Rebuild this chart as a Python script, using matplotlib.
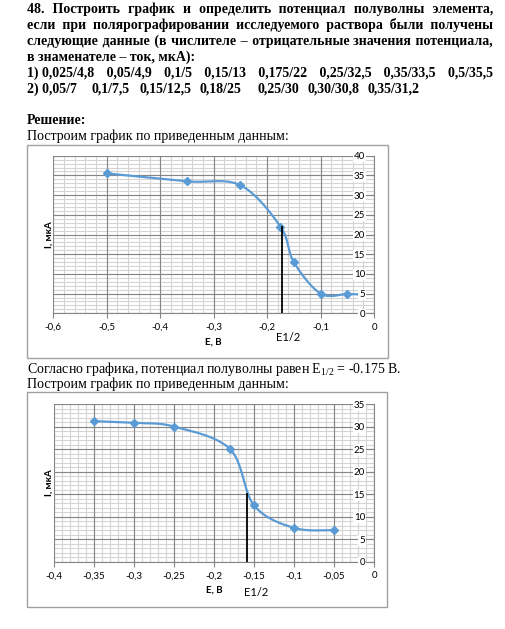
import itertools
import numpy as np
import matplotlib
matplotlib.use("Agg")
import matplotlib.pyplot as plt
from matplotlib import font_manager as fm
from matplotlib.ft2font import FT2Font
from matplotlib.ticker import FixedLocator, FixedFormatter

# ---------------- data ----------------
E1 = [-0.5, -0.35, -0.25, -0.175, -0.15, -0.1, -0.05, -0.025]
I1 = [35.5, 33.5, 32.5, 22, 13, 5, 4.9, 4.8]
E1_half, I1_half = -0.172, 22

E2 = [-0.35, -0.3, -0.25, -0.18, -0.15, -0.1, -0.05]
I2 = [31.2, 30.8, 30, 25, 12.5, 7.5, 7]
E2_half, I2_half = -0.159, 15

title_lines = [
    "48. Построить график и определить потенциал полуволны элемента,",
    "если при полярографировании исследуемого раствора были получены",
    "следующие данные (в числителе – отрицательные значения потенциала,",
]
title_last = "в знаменателе – ток, мкА):"
data_line1 = ["1) 0,025/4,8", "0,05/4,9", "0,1/5", "0,15/13", "0,175/22",
              "0,25/32,5", "0,35/33,5", "0,5/35,5"]
data_line2 = ["2) 0,05/7", "0,1/7,5", "0,15/12,5", "0,18/25", "0,25/30",
              "0,30/30,8", "0,35/31,2"]

# ---------------- setup ----------------
W, H = 505, 629
plt.rcParams["mathtext.fontset"] = "custom"
plt.rcParams["mathtext.rm"] = "Liberation Serif"
fig = plt.figure(figsize=(W / 100, H / 100), dpi=100)
page = fig.add_axes([0, 0, 1, 1])
page.set_xlim(0, W)
page.set_ylim(H, 0)
page.axis("off")
renderer = fig.canvas.get_renderer()

SERIF = "Liberation Serif"
CHART_FONT = "Lato"

fp_probe = fm.FontProperties(family=SERIF, weight="normal", size=10)
w, _, _ = renderer.get_text_width_height_descent(
    "Построим график по приведенным данным:", fp_probe, ismath=False)
BODY = 10 * 261 / w
FP_B = fm.FontProperties(family=SERIF, weight="bold", size=BODY)
FP_R = fm.FontProperties(family=SERIF, weight="normal", size=BODY)

_ft = FT2Font(fm.findfont(FP_B))
SPACES = [c for c in [" ", "\u2002", "\u2009", "\u200a"]
          if c == " " or _ft.get_char_index(ord(c)) != 0]


def measure(s):
    return renderer.get_text_width_height_descent(s, FP_B, ismath=False)[0]


base = measure("aa")
sp_w = {c: measure("a" + c + "a") - base for c in SPACES}
combos = []
for counts in itertools.product(range(1, 5), *[range(0, 4)] * (len(SPACES) - 1)):
    s = "".join(c * k for c, k in zip(SPACES, counts))
    combos.append((sum(sp_w[c] * k for c, k in zip(SPACES, counts)), s))


def justified_line(words, yb, x0=27, x1=493):
    total = sum(measure(wd) for wd in words)
    g = (x1 - x0 - total) / (len(words) - 1)
    out = words[0]
    carry = 0.0
    for wd in words[1:]:
        want = g + carry
        width, s = min(combos, key=lambda c: abs(c[0] - want))
        carry = want - width
        out += s + wd
    page.text(x0, yb, out, fontproperties=FP_B, va="baseline")


for line, yb in zip(title_lines, [13, 29, 45]):
    justified_line(line.split(" "), yb)
page.text(27, 61, title_last, fontproperties=FP_B, va="baseline")
justified_line(data_line1, 77)
pos2 = [27, 91, 140, 200, 257, 308, 368]
for tok, xp in zip(data_line2, pos2):
    page.text(xp, 93, tok, fontproperties=FP_B, va="baseline")

page.text(27, 124, "Решение:", fontproperties=FP_B, va="baseline")
page.text(27, 140, "Построим график по приведенным данным:", fontproperties=FP_R, va="baseline")
page.text(27, 373, r"Согласно графика, потенциал полуволны равен E$_{\mathrm{1/2}}$ = -0.175 В.",
          family=SERIF, fontsize=BODY, va="baseline")
page.text(27, 388, "Построим график по приведенным данным:", fontproperties=FP_R, va="baseline")


def excel_smooth(x, y, sx, sy, n=30):
    P = np.column_stack([np.asarray(x) * sx, np.asarray(y) * sy])
    k = len(P)
    out = []
    for i in range(k - 1):
        p0 = P[i - 1] if i > 0 else P[i]
        p1, p2 = P[i], P[i + 1]
        p3 = P[i + 2] if i + 2 < k else P[i + 1]
        c1 = p1 + (p2 - p0) / 6
        c2 = p2 - (p3 - p1) / 6
        t = np.linspace(0, 1, n)[:, None]
        seg = (1 - t) ** 3 * p1 + 3 * (1 - t) ** 2 * t * c1 + 3 * (1 - t) * t ** 2 * c2 + t ** 3 * p2
        out.append(seg if i == 0 else seg[1:])
    S = np.vstack(out)
    return S[:, 0] / sx, S[:, 1] / sy


def fmt(v):
    v = round(v, 3)
    if v == 0:
        return "0"
    return f"{v:g}".replace(".", ",")


def chart(box, plot, E, I, xmin, xmaj, xmin_step, ymax, e_half, i_half, lbl_off):
    bl, bt, br, bb = box
    page.add_patch(plt.Rectangle((bl, bt), br - bl, bb - bt, fill=False,
                                 edgecolor="#a0a0a0", lw=1.0))
    l, t, r, b = plot
    ax = fig.add_axes([l / W, 1 - b / H, (r - l) / W, (b - t) / H])
    ax.set_xlim(xmin, 0)
    ax.set_ylim(0, ymax)
    for v in np.arange(xmin, 0.0001, xmin_step):
        ax.axvline(v, color="#d4d4d4", lw=0.8, zorder=1)
    for v in np.arange(0, ymax + 0.001, 1):
        ax.axhline(v, color="#d4d4d4", lw=0.8, zorder=1)
    for v in np.arange(xmin, 0.0001, xmaj):
        ax.axvline(v, color="#858585", lw=0.8, zorder=1.1)
    for v in np.arange(0, ymax + 0.001, 5):
        ax.axhline(v, color="#858585", lw=0.8, zorder=1.1)
    for s in ["top", "right"]:
        ax.spines[s].set_visible(False)
    ax.spines["left"].set_position(("data", 0))
    ax.spines["left"].set_color("#858585")
    ax.spines["bottom"].set_color("#858585")
    xt = [round(v, 3) for v in np.arange(xmin, 0.0001, xmaj)]
    yt = list(range(0, ymax + 1, 5))
    ax.xaxis.set_major_locator(FixedLocator(xt))
    ax.xaxis.set_major_formatter(FixedFormatter([fmt(v) for v in xt]))
    ax.yaxis.set_major_locator(FixedLocator(yt))
    ax.yaxis.set_major_formatter(FixedFormatter([str(v) for v in yt]))
    ax.tick_params(axis="both", labelsize=7, colors="#858585", labelcolor="black",
                   length=3.5, width=0.8, direction="out")
    ax.tick_params(axis="x", pad=3.5)
    ax.tick_params(axis="y", pad=3)
    ax.yaxis.set_zorder(5)
    for lab in ax.get_xticklabels() + ax.get_yticklabels():
        lab.set_family(CHART_FONT)
    for lab in ax.get_yticklabels():
        lab.set_bbox(dict(facecolor="white", edgecolor="none", pad=0.8))
    sx = (r - l) / (-xmin)
    sy = (b - t) / ymax
    xs, ys = excel_smooth(E, I, sx, sy)
    ax.plot(xs, ys, color="#5B9BD5", lw=1.6, zorder=2.2, solid_capstyle="round")
    ax.plot(E, I, ls="none", marker="D", ms=3.6, color="#5B9BD5", zorder=2.3)
    ax.plot([e_half, e_half], [0, i_half], color="black", lw=1.3, zorder=2.4)
    ax.annotate("E1/2", xy=(e_half, 0), xycoords="data", xytext=lbl_off,
                textcoords="offset pixels", ha="center", va="center",
                family=CHART_FONT, fontsize=8, annotation_clip=False)
    page.text(49, (t + b) / 2, "I, мкА", rotation=90, ha="center", va="center",
              family=CHART_FONT, fontsize=7, fontweight="bold")
    return ax


chart((27, 145, 388, 358), (53.3, 155.7, 374, 313.3), E1, I1, -0.6, 0.1, 0.02, 40,
      E1_half, I1_half, (6, -24))
page.text(213, 342, "E, В", ha="center", va="center", family=CHART_FONT,
          fontsize=7, fontweight="bold")

chart((27, 392, 387, 607), (54, 404, 374, 561.7), E2, I2, -0.4, 0.05, 0.01, 35,
      E2_half, I2_half, (9, -31))
page.text(214, 590, "E, В", ha="center", va="center", family=CHART_FONT,
          fontsize=7, fontweight="bold")

fig.savefig("out.png", dpi=100)
